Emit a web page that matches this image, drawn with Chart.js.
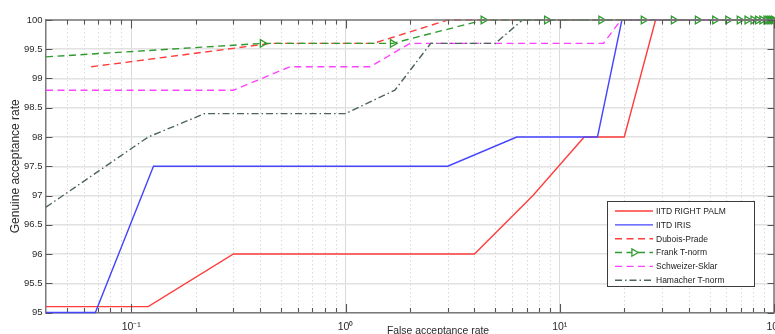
<!DOCTYPE html>
<html><head><meta charset="utf-8">
<script src="https://cdn.jsdelivr.net/npm/chart.js@4.4.1/dist/chart.umd.min.js"></script>
<style>
html,body{margin:0;padding:0;background:#fff;overflow:hidden;width:775px;height:334px}
#wrap{position:absolute;left:0;top:0;width:800px;height:350px}
</style>
</head><body><div id="wrap"><canvas id="c" width="800" height="350"></canvas></div>
<script>
// ---- axis definitions ----
const xMin = 0.04, xMax = 100;
const xTickValues = [0.1, 1, 10, 100];
const xTickLabels = ['10⁻¹', '10⁰', '10¹', '10²'];
const xMinorTicks = [0.05,0.06,0.07,0.08,0.09,0.2,0.3,0.4,0.5,0.6,0.7,0.8,0.9,2,3,4,5,6,7,8,9,20,30,40,50,60,70,80,90];
const yMin = 95, yMax = 100;
const yTickValues = [95,95.5,96,96.5,97,97.5,98,98.5,99,99.5,100];
const yTickLabels = ['95','95.5','96','96.5','97','97.5','98','98.5','99','99.5','100'];
const xTitle = 'False acceptance rate';
const yTitle = 'Genuine acceptance rate';

// ---- series ----
const seriesNames = ['IITD RIGHT PALM','IITD IRIS','Dubois-Prade','Frank T-norm','Schweizer-Sklar','Hamacher T-norm'];
const palmX = [0.04, 0.12, 0.3, 4, 7.5, 13, 20, 28, 100];
const palmY = [95.1, 95.1, 96, 96, 97, 98, 98, 100, 100];
const irisX = [0.04, 0.068, 0.127, 3, 6.3, 15, 19.5, 100];
const irisY = [95, 95, 97.5, 97.5, 98, 98, 100, 100];
const duboisX = [0.065, 0.45, 1.35, 3, 100];
const duboisY = [99.2, 99.6, 99.6, 100, 100];
const frankX = [0.04, 0.41, 1.66, 4.4, 8.7, 15.6, 24.6, 34, 44, 53, 61, 69, 75, 80, 84, 88, 92, 94, 96, 98, 100];
const frankY = [99.37, 99.6, 99.6, 100, 100, 100, 100, 100, 100, 100, 100, 100, 100, 100, 100, 100, 100, 100, 100, 100, 100];
const schweizerX = [0.04, 0.3, 0.55, 1.3, 2, 16, 19.3, 100];
const schweizerY = [98.8, 98.8, 99.2, 99.2, 99.6, 99.6, 100, 100];
const hamacherX = [0.04, 0.12, 0.22, 1, 1.7, 2.5, 5, 6.7, 100];
const hamacherY = [96.8, 98, 98.4, 98.4, 98.8, 99.6, 99.6, 100, 100];

const seriesX = [palmX, irisX, duboisX, frankX, schweizerX, hamacherX];
const seriesY = [palmY, irisY, duboisY, frankY, schweizerY, hamacherY];
const colors = ['#ff3d3d', '#4545ff', '#ff3d3d', '#2f9b2f', '#ff42ff', '#4b6657'];
const dashes = [[], [], [7, 4.5], [7, 4.5], [7, 4.5], [7, 3, 1.5, 3]];

const FONT = '"Liberation Sans", Arial, sans-serif';
const pts = (xs, ys) => xs.map((v, i) => ({x: v, y: ys[i]}));

const datasets = seriesNames.map((name, i) => ({
  label: name,
  data: pts(seriesX[i], seriesY[i]),
  borderColor: colors[i],
  backgroundColor: colors[i],
  borderWidth: 1.4,
  borderDash: dashes[i],
  tension: 0,
  fill: false,
  clip: 6,
  order: seriesNames.length - i,
  pointStyle: i === 3 ? 'triangle' : 'circle',
  rotation: 90,
  pointRadius: i === 3 ? (c => c.dataIndex === 0 ? 0 : 4.4) : 0,
  pointBorderWidth: 1.3,
  pointBorderColor: colors[i],
  pointBackgroundColor: 'rgba(255,255,255,0)'
}));

const frame = {
  id: 'frame',
  beforeDatasetsDraw(chart) {
    const {ctx, chartArea: a, scales: {x}} = chart;
    ctx.save();
    ctx.strokeStyle = '#d9d9d9'; ctx.lineWidth = 1; ctx.setLineDash([1.5, 2.5]);
    xMinorTicks.forEach(v => {
      const px = Math.round(x.getPixelForValue(v)) + 0.5;
      ctx.beginPath(); ctx.moveTo(px, a.top); ctx.lineTo(px, a.bottom); ctx.stroke();
    });
    ctx.restore();
  },
  afterDraw(chart) {
    const {ctx, chartArea: a, scales: {x, y}} = chart;
    ctx.save();
    ctx.strokeStyle = '#7a7a7a'; ctx.lineWidth = 1.5;
    ctx.beginPath(); ctx.moveTo(a.left, a.top); ctx.lineTo(a.right, a.top); ctx.lineTo(a.right, a.bottom); ctx.stroke();
    ctx.strokeStyle = '#555'; ctx.lineWidth = 1.1;
    const vt = (v, len) => {
      const px = Math.round(x.getPixelForValue(v)) + 0.5;
      ctx.beginPath(); ctx.moveTo(px, a.bottom); ctx.lineTo(px, a.bottom - len);
      ctx.moveTo(px, a.top); ctx.lineTo(px, a.top + len); ctx.stroke();
    };
    xMinorTicks.forEach(v => vt(v, 4.5));
    xTickValues.forEach(v => vt(v, 8.5));
    yTickValues.forEach(v => {
      const py = Math.round(y.getPixelForValue(v)) + 0.5;
      ctx.beginPath(); ctx.moveTo(a.left, py); ctx.lineTo(a.left + 6.5, py);
      ctx.moveTo(a.right, py); ctx.lineTo(a.right - 6.5, py); ctx.stroke();
    });
    ctx.fillStyle = '#2a2a2a';
    ctx.font = '10.4px ' + FONT;
    ctx.textAlign = 'center'; ctx.textBaseline = 'middle';
    ctx.fillText(xTitle, (a.left + a.right) / 2 + 28, 331);
    const L = a.right - 167, T = a.bottom - 111.5, W = 147, H = 85;
    ctx.fillStyle = '#fff'; ctx.fillRect(L, T, W, H);
    ctx.strokeStyle = '#3c3c3c'; ctx.lineWidth = 1; ctx.setLineDash([]);
    ctx.strokeRect(L + 0.5, T + 0.5, W, H);
    ctx.font = '8.5px ' + FONT; ctx.textAlign = 'left'; ctx.textBaseline = 'middle';
    chart.data.datasets.forEach((ds, i) => {
      const ry = T + 10 + i * 13.85;
      ctx.strokeStyle = ds.borderColor; ctx.lineWidth = 1.4; ctx.setLineDash(ds.borderDash);
      ctx.beginPath(); ctx.moveTo(L + 8, ry); ctx.lineTo(L + 46, ry); ctx.stroke();
      ctx.setLineDash([]);
      if (ds.pointStyle === 'triangle') {
        const cx = L + 27, r = 4.2;
        ctx.lineWidth = 1.3;
        ctx.beginPath(); ctx.moveTo(cx + r, ry); ctx.lineTo(cx - r * 0.5, ry - r * 0.87); ctx.lineTo(cx - r * 0.5, ry + r * 0.87); ctx.closePath();
        ctx.fillStyle = '#fff'; ctx.fill(); ctx.stroke();
      }
      ctx.fillStyle = '#222';
      ctx.fillText(ds.label, L + 49, ry + 0.5);
    });
    ctx.restore();
  }
};

new Chart(document.getElementById('c'), {
  type: 'line',
  data: {datasets},
  plugins: [frame],
  options: {
    responsive: false, animation: false, devicePixelRatio: 1,
    layout: {padding: {left: 0, top: 20, right: 26, bottom: 0}},
    plugins: {legend: {display: false}, tooltip: {enabled: false}},
    scales: {
      x: {
        type: 'logarithmic', min: xMin, max: xMax, position: 'bottom',
        afterBuildTicks: s => { s.ticks = xTickValues.map(v => ({value: v, major: true})); },
        afterFit: s => { s.height = 37.5; },
        ticks: {
          autoSkip: false, maxRotation: 0, padding: 8.5, color: '#2a2a2a',
          font: {family: FONT, size: 10.5},
          callback: v => { const k = xTickValues.indexOf(v); return k >= 0 ? xTickLabels[k] : ''; }
        },
        grid: {drawTicks: false, color: '#dadada', lineWidth: 1},
        border: {display: true, color: '#7a7a7a', width: 1.5}
      },
      y: {
        type: 'linear', min: yMin, max: yMax, position: 'left',
        afterBuildTicks: s => { s.ticks = yTickValues.map(v => ({value: v})); },
        afterFit: s => { s.width = 46; },
        ticks: {
          padding: 3.5, color: '#2a2a2a', font: {family: FONT, size: 9.5},
          callback: v => { const k = yTickValues.indexOf(v); return k >= 0 ? yTickLabels[k] : ''; }
        },
        title: {display: true, text: yTitle, color: '#2a2a2a', font: {family: FONT, size: 12}, padding: {top: 8, bottom: 0}},
        grid: {drawTicks: false, color: '#e2e2e2', lineWidth: 1.5},
        border: {display: true, color: '#7a7a7a', width: 1.5}
      }
    }
  }
});
</script></body></html>
